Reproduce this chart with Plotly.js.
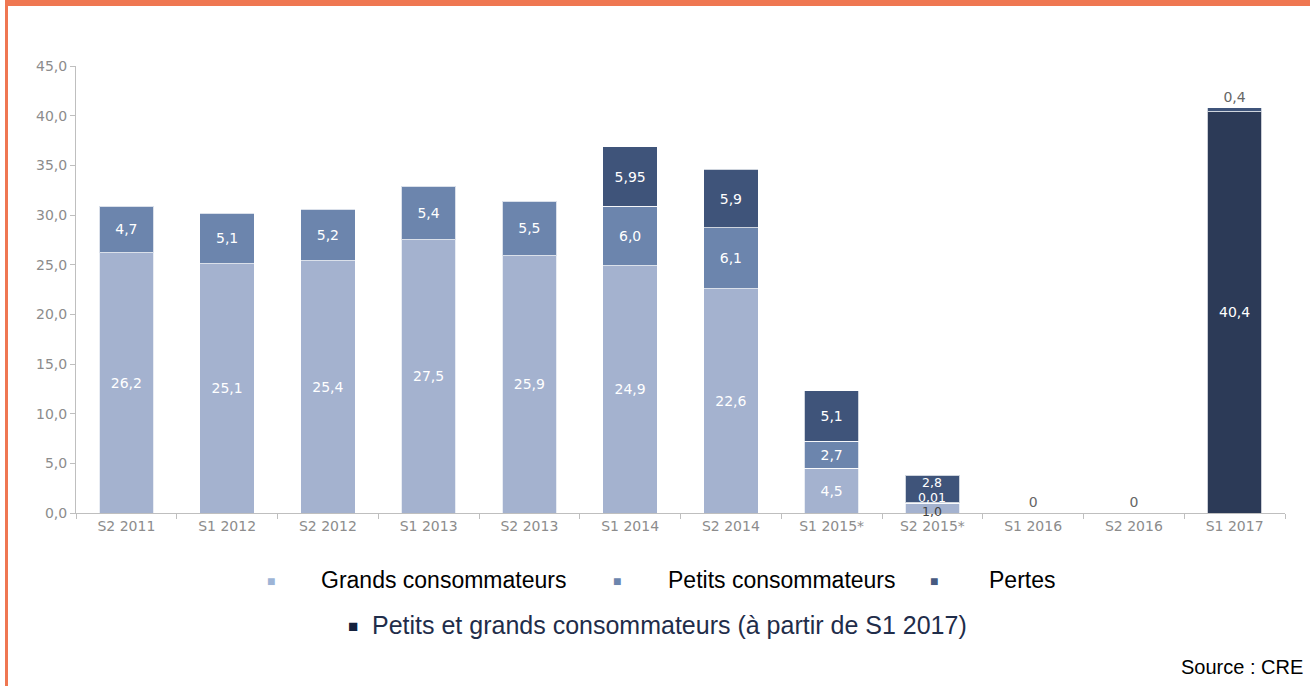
<!DOCTYPE html>
<html>
<head>
<meta charset="utf-8">
<script src="https://cdn.plot.ly/plotly-3.0.1.min.js"></script>
<style>
  html, body { margin: 0; padding: 0; background: #fff; }
  #chart { width: 1310px; height: 686px; }
  .band { position: absolute; left: 5px; top: 0; width: 1305px; height: 6px; background: #EF7752; }
  .edge { position: absolute; left: 5px; top: 0; width: 3px; height: 686px; background: #EF7752; }
</style>
</head>
<body>
<div id="chart"></div>
<div class="band"></div>
<div class="edge"></div>
<script>
// semesters
var cats = ['S2 2011', 'S1 2012', 'S2 2012', 'S1 2013', 'S2 2013', 'S1 2014',
    'S2 2014', 'S1 2015*', 'S2 2015*', 'S1 2016', 'S2 2016', 'S1 2017'];

var grands = [26.2, 25.1, 25.4, 27.5, 25.9, 24.9, 22.6, 4.5, 1.0, 0, 0, null];
var petits = [4.7, 5.1, 5.2, 5.4, 5.5, 6.0, 6.1, 2.7, 0.01, 0, 0, null];
var pertes = [null, null, null, null, null, 5.95, 5.9, 5.1, 2.8, 0, 0, 0.4];
var combines = [null, null, null, null, null, null, null, null, null, null, null, 40.4];

var yTicks = [0, 5, 10, 15, 20, 25, 30, 35, 40, 45];

// the thin bar whose labels are spread out by hand
var crowded = cats.indexOf('S2 2015*');

// french number labels: 26,2 / 5,95 / 0
function fmt(v) {
    if (v === null) return '';
    if (v === 0) return '0';
    var s = Math.abs(Math.round(v * 10) - v * 10) < 1e-9 ? v.toFixed(1) : String(v);
    return s.replace('.', ',');
}
function insideLabels(arr) {
    return arr.map(function (v, i) { return v && i !== crowded ? fmt(v) : ''; });
}

var font = 'DejaVu Sans, sans-serif';
var legendFont = 'Liberation Sans, Arial, sans-serif';
var line = {color: 'rgba(255,255,255,0.75)', width: 1};

var trace0 = {
    x: cats, y: combines, type: 'bar', name: 'Petits et grands consommateurs (à partir de S1 2017)',
    marker: {color: '#2C3A57', line: line},
    text: insideLabels(combines), textposition: 'inside', insidetextanchor: 'middle',
    constraintext: 'none', textfont: {color: '#fff'}
};
var trace1 = {
    x: cats, y: grands, type: 'bar', name: 'Grands consommateurs',
    marker: {color: '#A4B2CF', line: line},
    text: insideLabels(grands), textposition: 'inside', insidetextanchor: 'middle',
    constraintext: 'none', textfont: {color: '#fff'}
};
var trace2 = {
    x: cats, y: petits, type: 'bar', name: 'Petits consommateurs',
    marker: {color: '#6C85AD', line: line},
    text: insideLabels(petits), textposition: 'inside', insidetextanchor: 'middle',
    constraintext: 'none', textfont: {color: '#fff'}
};
var trace3 = {
    x: cats, y: pertes, type: 'bar', name: 'Pertes',
    marker: {color: '#3F547A', line: line},
    text: pertes.map(function (v, i) { return i === crowded ? '' : fmt(v); }),
    textposition: pertes.map(function (v) { return v !== null && v < 1 ? 'outside' : 'inside'; }),
    insidetextanchor: 'middle', constraintext: 'none',
    textfont: {color: '#fff'},
    outsidetextfont: {color: '#666666'}
};

var data = [trace0, trace1, trace2, trace3];

function px(x) { return (x - 76) / 1209; }
function py(y) { return (513 - y) / 447; }

function legendItem(x, y, text, color, size) {
    return {
        xref: 'paper', yref: 'paper', x: px(x), y: py(y), xanchor: 'left', yanchor: 'middle',
        showarrow: false, font: {family: legendFont, size: size, color: color}, text: text
    };
}

// labels of the thin S2 2015* bar, placed from the data with small shifts
function barLabel(yv, v, color, shift) {
    return {
        x: cats[crowded], y: yv, xref: 'x', yref: 'y', showarrow: false, yshift: shift,
        text: fmt(v), font: {family: font, size: 12.5, color: color}
    };
}
var g = grands[crowded], p = petits[crowded], l = pertes[crowded];

var layout = {
    barmode: 'stack',
    bargap: 0.46,
    showlegend: false,
    width: 1310,
    height: 686,
    margin: {l: 76, r: 25, t: 66, b: 173},
    paper_bgcolor: '#fff',
    plot_bgcolor: '#fff',
    font: {family: font, size: 14, color: '#8C8C8C'},
    xaxis: {
        showline: true, linecolor: '#BFBFBF', linewidth: 1,
        ticks: 'outside', tickson: 'boundaries', ticklen: 5, tickcolor: '#BFBFBF',
        tickfont: {family: font, size: 14, color: '#8C8C8C'},
        fixedrange: true
    },
    yaxis: {
        range: [0, 45], tickvals: yTicks, tickformat: '.1f',
        showline: true, linecolor: '#BFBFBF', linewidth: 1,
        ticks: 'outside', ticklen: 5, tickcolor: '#BFBFBF',
        showgrid: false, zeroline: false,
        tickfont: {family: font, size: 14, color: '#8C8C8C'},
        fixedrange: true
    },
    separators: ', ',
    annotations: [
        barLabel(g / 2, g, '#404040', -3),
        barLabel(g + p, p, '#fff', 5),
        barLabel(g + p + l / 2, l, '#fff', 7),
        legendItem(265, 581, '■', '#9DB4D6', 14),
        legendItem(319, 580, 'Grands consommateurs', '#000', 23),
        legendItem(611, 581, '■', '#6C85AD', 14),
        legendItem(666, 580, 'Petits consommateurs', '#000', 23),
        legendItem(928, 581, '■', '#475A80', 14),
        legendItem(987, 580, 'Pertes', '#000', 23),
        legendItem(346, 626, '■', '#14213D', 17),
        legendItem(370, 625, 'Petits et grands consommateurs (à partir de S1 2017)', '#1F2D4A', 25),
        {
            xref: 'paper', yref: 'paper', x: px(1305), y: py(667), xanchor: 'right', yanchor: 'middle',
            showarrow: false,
            font: {family: legendFont, size: 20, color: '#000'},
            text: 'Source : CRE'
        }
    ]
};

Plotly.newPlot('chart', data, layout, {displayModeBar: false, staticPlot: true});
</script>
</body>
</html>
